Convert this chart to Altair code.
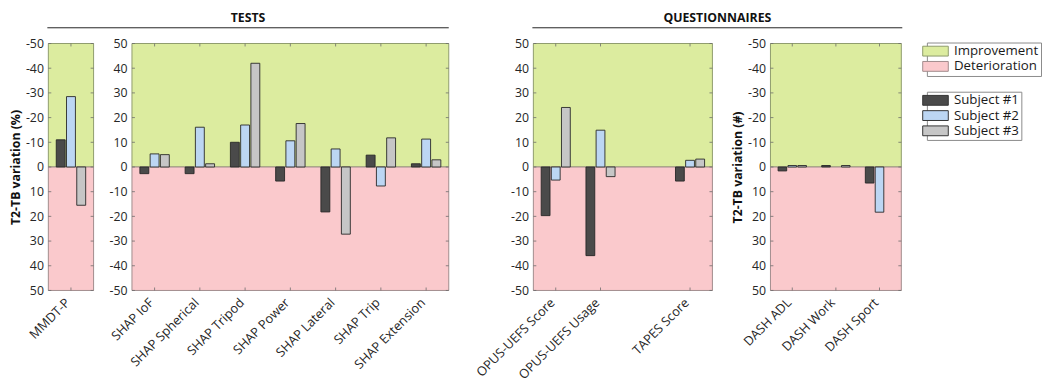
import altair as alt
import pandas as pd

FONT = "Open Sans"

subjects = ["Subject #1", "Subject #2", "Subject #3"]
subject_colors = ["#4a4a4a", "#bcd6f3", "#c6c6c6"]
zones = ["Improvement", "Deterioration"]
zone_colors = ["#dcec9f", "#fac9cc"]
zone_edges = ["#8e9b6c", "#a08b8c"]

y_ticks = [-50, -40, -30, -20, -10, 0, 10, 20, 30, 40, 50]

# Panel 1 (reversed axis)
mmdt_cats = ["MMDT-P"]
mmdt_s1 = [-11.0]
mmdt_s2 = [-28.5]
mmdt_s3 = [15.5]

# Panel 2
shap_cats = ["SHAP IoF", "SHAP Spherical", "SHAP Tripod", "SHAP Power",
             "SHAP Lateral", "SHAP Trip", "SHAP Extension"]
shap_s1 = [-2.7, -2.7, 10.0, -5.7, -18.2, 4.8, 1.3]
shap_s2 = [5.3, 16.1, 17.0, 10.6, 7.3, -7.7, 11.3]
shap_s3 = [5.0, 1.3, 42.0, 17.6, -27.2, 11.8, 2.9]

# Panel 3 (one empty slot between Usage and TAPES)
quest_cats = ["OPUS-UEFS Score", "OPUS-UEFS Usage", "TAPES Score"]
quest_slots = ["OPUS-UEFS Score", "OPUS-UEFS Usage", " ", "TAPES Score"]
quest_s1 = [-19.7, -35.9, -5.7]
quest_s2 = [-5.3, 14.9, 2.7]
quest_s3 = [24.1, -3.9, 3.2]

# Panel 4 (reversed axis)
dash_cats = ["DASH ADL", "DASH Work", "DASH Sport"]
dash_s1 = [1.6, -0.6, 6.5]
dash_s2 = [-0.6, 0.0, 18.3]
dash_s3 = [-0.6, -0.6, 0.0]

H = 251
W1, W2, W3, W4 = 46, 322, 182, 133
G12, G23, G34 = 39, 86, 59

RECT = "M-2.6,-1H2.6V1H-2.6Z"
TICK_COLOR = "#6b6b6b"

legend_common = dict(
    title=None, orient="none", legendX=893,
    strokeColor="#8a8a8a", fillColor="white", padding=2,
    symbolType=RECT, symbolSize=100, symbolStrokeWidth=1,
    labelFont=FONT, labelFontSize=13.5, labelColor="#1a1a1a",
    labelOffset=12, rowPadding=0.5,
)
zone_legend = alt.Legend(legendY=-1, symbolStrokeColor="#555555", **legend_common)
subj_legend = alt.Legend(legendY=49, symbolStrokeColor="#333333", **legend_common)


def header(label, x_left, x_right):
    d = pd.DataFrame({"label": [label]})
    t = alt.Chart(d).mark_text(
        font=FONT, fontSize=12.5, fontWeight="bold", color="#111111",
        baseline="middle", align="center",
    ).encode(text="label:N", x=alt.value((x_left + x_right) / 2), y=alt.value(-26))
    r = alt.Chart(d).mark_rule(color="#222222", strokeWidth=1).encode(
        x=alt.value(x_left), x2=alt.value(x_right), y=alt.value(-16))
    return [t, r]


def panel(cats, slots, s1, s2, s3, width, reverse, ytitle, extra=()):
    rows = []
    for i, c in enumerate(cats):
        for subj, vals in zip(subjects, (s1, s2, s3)):
            if vals[i] != 0:
                rows.append({"cat": c, "subject": subj, "value": vals[i]})
    bars_df = pd.DataFrame(rows)
    sign = -1 if reverse else 1
    bg_df = pd.DataFrame({"zone": zones, "y0": [0, 0], "y1": [50 * sign, -50 * sign]})
    yscale = alt.Scale(domain=[-50, 50], reverse=reverse, nice=False)
    xscale = alt.Scale(domain=slots, paddingInner=0.35, paddingOuter=0.175)
    ax_kw = dict(values=y_ticks, grid=False, ticks=False, domain=False,
                 labelPadding=5, labelFontSize=12.5, labelFont=FONT,
                 labelColor="#262626", labelOverlap=False, labelFlush=False,
                 labelBound=False, labelSeparation=0,
                 labelExpr="'' + datum.value",
                 titleFont=FONT, titleFontSize=12.5,
                 titleFontWeight="bold", titleColor="#111111", titlePadding=3)
    yaxis = alt.Axis(title=ytitle, **ax_kw) if ytitle else alt.Axis(title=None, **ax_kw)
    xaxis = alt.Axis(title=None, labelAngle=-45, labelAlign="right",
                     labelBaseline="middle", ticks=False, domain=False,
                     labelPadding=10, labelOffset=-3, labelFontSize=13,
                     labelFont=FONT, labelColor="#262626", labelOverlap=False)
    bg = alt.Chart(bg_df).mark_rect(strokeWidth=1).encode(
        x=alt.value(0), x2=alt.value(width),
        y=alt.Y("y0:Q", scale=yscale, axis=yaxis),
        y2="y1:Q",
        fill=alt.Fill("zone:N", scale=alt.Scale(domain=zones, range=zone_colors),
                      legend=zone_legend),
        stroke=alt.Stroke("zone:N", scale=alt.Scale(domain=zones, range=zone_edges),
                          legend=None),
    )
    bars = alt.Chart(bars_df).mark_bar(stroke="#262626", strokeWidth=0.9).encode(
        x=alt.X("cat:N", scale=xscale, axis=xaxis),
        xOffset=alt.XOffset("subject:N", scale=alt.Scale(domain=subjects,
                                                         paddingInner=0.13)),
        y=alt.Y("value:Q", scale=yscale, axis=yaxis),
        color=alt.Color("subject:N", scale=alt.Scale(domain=subjects,
                                                     range=subject_colors),
                        legend=subj_legend),
    )
    # small inward ticks (MATLAB style box ticks)
    tick_df = pd.DataFrame({"t": y_ticks})
    cat_df = pd.DataFrame({"cat": cats})
    yt_left = alt.Chart(tick_df).mark_rule(color=TICK_COLOR, strokeWidth=0.8).encode(
        x=alt.value(0), x2=alt.value(3), y=alt.Y("t:Q", scale=yscale, axis=yaxis))
    yt_right = alt.Chart(tick_df).mark_rule(color=TICK_COLOR, strokeWidth=0.8).encode(
        x=alt.value(width - 3), x2=alt.value(width),
        y=alt.Y("t:Q", scale=yscale, axis=yaxis))
    xt_top = alt.Chart(cat_df).mark_rule(color=TICK_COLOR, strokeWidth=0.8).encode(
        x=alt.X("cat:N", scale=xscale, axis=xaxis, bandPosition=0.5),
        y=alt.value(0), y2=alt.value(3))
    xt_bot = alt.Chart(cat_df).mark_rule(color=TICK_COLOR, strokeWidth=0.8).encode(
        x=alt.X("cat:N", scale=xscale, axis=xaxis, bandPosition=0.5),
        y=alt.value(H - 3), y2=alt.value(H))
    return alt.layer(bg, bars, yt_left, yt_right, xt_top, xt_bot, *extra).properties(
        width=width, height=H)


def spacer(w):
    return alt.Chart(pd.DataFrame({"s": [0]})).mark_point(opacity=0).encode(
        x=alt.X("s:Q", axis=None), y=alt.Y("s:Q", axis=None),
    ).properties(width=w, height=H)


p1 = panel(mmdt_cats, mmdt_cats, mmdt_s1, mmdt_s2, mmdt_s3, W1, True,
           "T2-TB variation (%)")
p2 = panel(shap_cats, shap_cats, shap_s1, shap_s2, shap_s3, W2, False, None,
           extra=header("TESTS", -(G12 + W1) - 1, W2))
p3 = panel(quest_cats, quest_slots, quest_s1, quest_s2, quest_s3, W3, False, None)
p4 = panel(dash_cats, dash_cats, dash_s1, dash_s2, dash_s3, W4, True,
           "T2-TB variation (#)",
           extra=header("QUESTIONNAIRES", -(G34 + W3) - 1, W4 + 1))

chart = alt.hconcat(
    p1, spacer(G12), p2, spacer(G23), p3, spacer(G34), p4,
    spacing=0, bounds="flush",
).resolve_scale(
    x="independent", y="independent", xOffset="independent",
).properties(
    padding={"left": 1, "top": 1, "right": 0, "bottom": 0}
).configure_view(strokeWidth=0).configure_axis(labelOverlap=False)

chart.save("out.html", embed_options={"renderer": "svg", "actions": False})
